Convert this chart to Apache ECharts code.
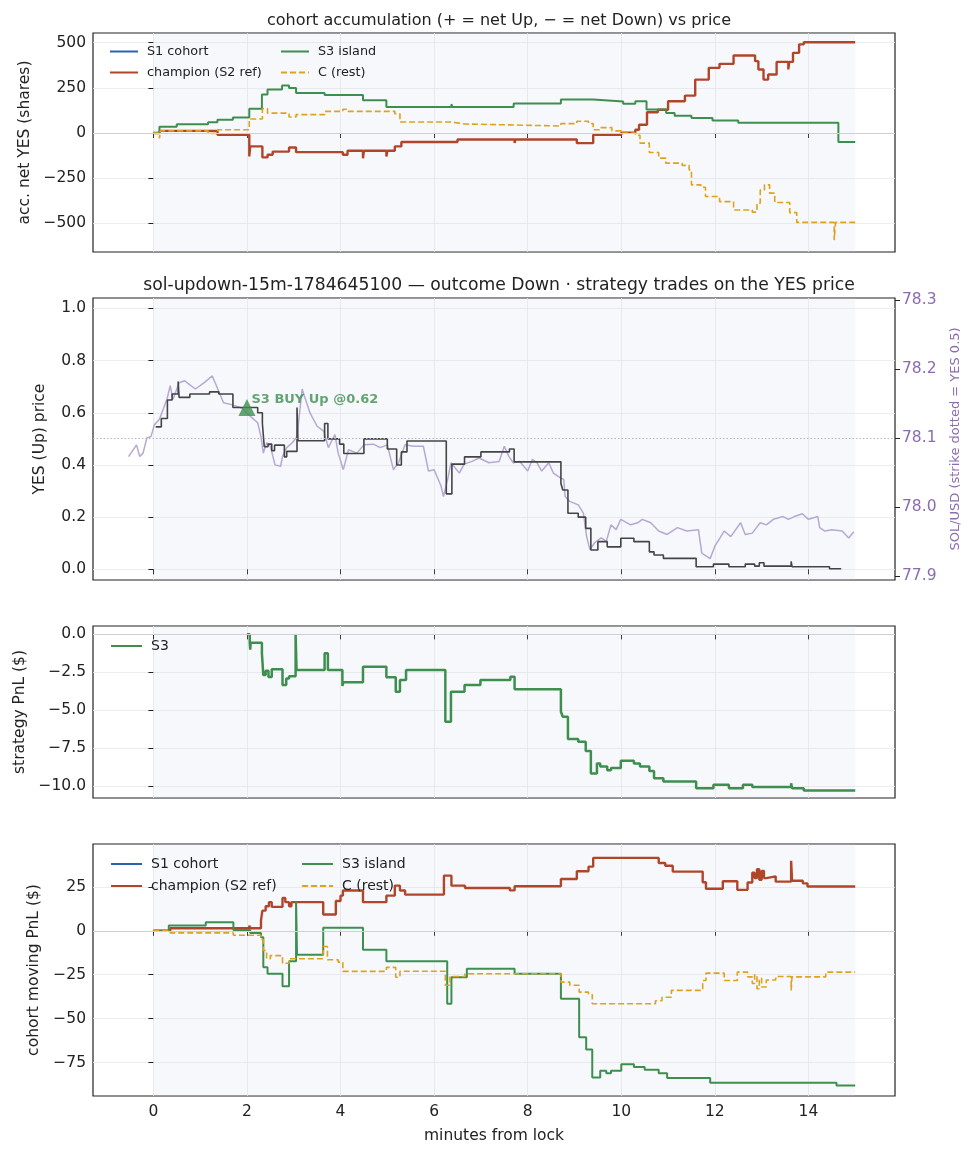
<!DOCTYPE html>
<html>
<head>
<meta charset="utf-8">
<script src="https://cdn.jsdelivr.net/npm/echarts@6/dist/echarts.min.js"></script>
<style>
  body { margin: 0; background: #fff; }
  #chart { width: 973px; height: 1156px; }
</style>
</head>
<body>
<div id="chart"></div>
<script>
// x ticks (minutes from lock)
var xTicks = [0, 2, 4, 6, 8, 10, 12, 14];

// panel 1: accumulated net YES shares
var accChampT = [0, 0.13, 1.37, 2.05, 2.07, 2.33, 2.44, 2.55, 2.9, 3.05, 4.05, 4.15, 4.48, 4.5, 4.98, 5.0, 5.16, 5.3, 6.5, 7.72, 7.74, 9.05, 9.4, 10.0, 10.3, 10.38, 10.55, 10.78, 11.0, 11.36, 11.58, 11.87, 12.1, 12.4, 12.86, 12.93, 13.04, 13.14, 13.32, 13.57, 13.59, 13.67, 13.8, 13.9, 15.0];
var accChampV = [0, 12, -10, -130, -74, -135, -120, -103, -80, -106, -120, -98, -140, -98, -130, -98, -74, -50, -36, -55, -36, -56, -10, 2, 18, 46, 115, 129, 176, 207, 296, 361, 383, 429, 398, 352, 296, 324, 394, 352, 394, 444, 491, 503, 503];
var accS3T = [0, 0.13, 0.5, 1.17, 1.37, 1.7, 2.05, 2.32, 2.44, 2.75, 2.9, 3.05, 3.66, 4.48, 4.98, 6.37, 6.39, 7.7, 8.71, 9.4, 10.04, 10.3, 10.54, 10.96, 11.14, 11.5, 11.95, 12.5, 14.64, 15.0];
var accS3V = [0, 35, 48, 60, 74, 86, 135, 213, 241, 263, 249, 222, 210, 181, 144, 160, 144, 163, 185, 174, 162, 176, 130, 111, 96, 83, 70, 57, -50, -50];
var accRestT = [0, 0.13, 0.15, 1.17, 1.37, 2.05, 2.33, 2.44, 2.9, 3.05, 3.66, 4.05, 4.15, 5.16, 5.27, 6.37, 6.66, 8.71, 9.05, 9.3, 9.4, 9.55, 9.8, 10.0, 10.3, 10.4, 10.6, 10.8, 10.95, 11.3, 11.45, 11.5, 11.7, 11.8, 12.1, 12.4, 12.8, 12.9, 12.97, 13.06, 13.17, 13.28, 13.6, 13.75, 14.55, 14.58, 15.0];
var accRestV = [0, -30, 12, -2, 18, 78, 135, 110, 89, 102, 120, 132, 120, 107, 61, 50, 39, 52, 65, 53, 18, 30, 12, 0, -12, -56, -108, -139, -167, -179, -204, -287, -300, -352, -380, -426, -438, -389, -315, -287, -333, -385, -441, -495, -593, -495, -495];
var accTicks = [-500, -250, 0, 250, 500];

// panel 2: YES price and SOL/USD
var yesT = [0.05, 0.17, 0.3, 0.4, 0.53, 0.55, 0.78, 1.2, 1.4, 1.7, 2.23, 2.33, 2.37, 2.45, 2.53, 2.59, 2.8, 2.85, 3.07, 3.09, 3.66, 3.73, 3.98, 4.07, 4.5, 5.0, 5.2, 5.3, 5.42, 6.26, 6.38, 6.65, 7.0, 7.61, 7.71, 8.71, 8.75, 8.86, 9.08, 9.24, 9.35, 9.5, 9.7, 9.99, 10.27, 10.6, 10.7, 10.9, 11.6, 11.97, 12.3, 12.65, 12.85, 12.95, 13.05, 13.63, 13.65, 14.45, 14.7];
var yesP = [0.546, 0.578, 0.649, 0.672, 0.72, 0.659, 0.672, 0.680, 0.672, 0.62, 0.600, 0.559, 0.47, 0.48, 0.455, 0.476, 0.431, 0.452, 0.62, 0.493, 0.559, 0.5, 0.48, 0.444, 0.50, 0.461, 0.4, 0.45, 0.492, 0.289, 0.403, 0.431, 0.45, 0.461, 0.412, 0.329, 0.304, 0.215, 0.2, 0.157, 0.074, 0.106, 0.086, 0.119, 0.106, 0.067, 0.055, 0.042, 0.010, 0.02, 0.010, 0.02, 0.012, 0.025, 0.012, 0.03, 0.010, 0.002, 0.002];
var solT = [-0.53, -0.36, -0.29, -0.22, -0.14, -0.05, 0.02, 0.13, 0.29, 0.36, 0.42, 0.55, 0.67, 0.78, 0.9, 1.1, 1.26, 1.32, 1.5, 1.69, 1.9, 2.08, 2.23, 2.3, 2.35, 2.42, 2.5, 2.6, 2.72, 2.76, 2.85, 2.97, 3.07, 3.18, 3.25, 3.35, 3.5, 3.64, 3.74, 3.88, 3.95, 4.06, 4.17, 4.35, 4.5, 4.7, 4.85, 5.0, 5.13, 5.24, 5.38, 5.56, 5.77, 5.88, 6.0, 6.15, 6.2, 6.29, 6.36, 6.54, 6.64, 6.81, 6.96, 7.17, 7.39, 7.5, 7.6, 7.69, 7.83, 8.0, 8.1, 8.2, 8.3, 8.45, 8.55, 8.7, 8.77, 8.8, 8.9, 9.08, 9.19, 9.26, 9.33, 9.43, 9.57, 9.68, 9.78, 9.89, 9.99, 10.2, 10.35, 10.45, 10.63, 10.8, 10.98, 11.2, 11.4, 11.65, 11.72, 11.9, 12.0, 12.2, 12.34, 12.55, 12.65, 12.8, 12.97, 13.1, 13.25, 13.46, 13.57, 13.7, 13.87, 14.0, 14.2, 14.24, 14.35, 14.5, 14.72, 14.86, 14.97];
var solP = [78.073, 78.090, 78.073, 78.078, 78.100, 78.102, 78.119, 78.127, 78.156, 78.176, 78.156, 78.180, 78.183, 78.177, 78.171, 78.181, 78.190, 78.180, 78.151, 78.148, 78.143, 78.131, 78.122, 78.102, 78.078, 78.093, 78.088, 78.061, 78.059, 78.073, 78.086, 78.093, 78.102, 78.171, 78.156, 78.136, 78.117, 78.110, 78.086, 78.105, 78.078, 78.054, 78.083, 78.078, 78.090, 78.091, 78.086, 78.090, 78.054, 78.064, 78.090, 78.088, 78.088, 78.052, 78.054, 78.030, 78.015, 78.040, 78.064, 78.049, 78.062, 78.066, 78.071, 78.064, 78.066, 78.088, 78.073, 78.064, 78.066, 78.052, 78.069, 78.064, 78.052, 78.064, 78.049, 78.042, 78.040, 78.015, 78.008, 78.003, 77.991, 77.957, 77.938, 77.948, 77.955, 77.950, 77.974, 77.967, 77.982, 77.974, 77.977, 77.982, 77.977, 77.965, 77.960, 77.970, 77.965, 77.967, 77.933, 77.925, 77.943, 77.965, 77.957, 77.977, 77.960, 77.962, 77.977, 77.974, 77.982, 77.986, 77.982, 77.986, 77.990, 77.982, 77.986, 77.970, 77.965, 77.967, 77.965, 77.955, 77.964];
var strike = 78.1;
var buyT = [2.0];
var buyP = [0.62];
var buyLabel = 'S3 BUY Up @0.62';
var yesTicks = [0, 0.2, 0.4, 0.6, 0.8, 1.0];
var solTicks = [77.9, 78.0, 78.1, 78.2, 78.3];

// panel 3: strategy PnL
var pnlT = [2.0, 2.06, 2.07, 2.08, 2.32, 2.35, 2.4, 2.46, 2.53, 2.76, 2.84, 2.9, 3.04, 3.06, 3.66, 3.73, 4.04, 4.06, 4.48, 4.98, 5.18, 5.27, 5.4, 6.24, 6.36, 6.65, 6.99, 7.63, 7.72, 8.71, 8.75, 8.86, 9.08, 9.24, 9.35, 9.48, 9.55, 9.7, 9.78, 9.99, 10.27, 10.4, 10.6, 10.7, 10.9, 11.6, 11.97, 12.3, 12.6, 12.8, 13.63, 13.65, 13.9, 15.0];
var pnlS3 = [0, -0.55, -1.0, -0.55, -1.25, -2.68, -2.4, -2.8, -2.3, -3.33, -2.9, -2.75, 0, -2.35, -1.25, -2.35, -3.4, -3.16, -2.13, -2.83, -3.78, -3.0, -2.35, -5.75, -3.78, -3.34, -3.0, -2.79, -3.62, -5.09, -5.42, -6.89, -7.07, -7.68, -9.15, -8.5, -8.7, -8.95, -8.8, -8.32, -8.5, -8.7, -9.0, -9.47, -9.68, -10.13, -9.9, -10.13, -9.9, -10.05, -9.8, -10.13, -10.28, -10.28];
var pnlTicks = [-10, -7.5, -5, -2.5, 0];

// panel 4: cohort moving PnL
var movChampT = [0, 0.36, 2.05, 2.07, 2.3, 2.33, 2.4, 2.47, 2.53, 2.76, 2.82, 2.9, 2.95, 3.63, 3.9, 4.0, 4.05, 4.48, 4.98, 5.16, 5.27, 5.38, 6.21, 6.37, 6.66, 7.62, 7.72, 8.71, 9.05, 9.3, 9.4, 10.8, 10.94, 11.1, 11.74, 11.81, 12.17, 12.48, 12.7, 12.8, 12.85, 12.9, 12.95, 13.0, 13.05, 13.1, 13.3, 13.63, 13.65, 13.88, 13.98, 15.0];
var movChampV = [0, 1.5, 3, 1.5, 5.9, 11.5, 14, 16.3, 13.6, 18.7, 16.3, 14, 16.3, 9.3, 17, 20, 22.9, 16.3, 20, 25.7, 22.9, 20.6, 31.4, 25.7, 24.4, 23.0, 25.4, 29.5, 33.9, 36.5, 41.5, 38.6, 37, 33.7, 27.6, 23.9, 28.2, 23.3, 27.5, 33, 30, 35, 29, 34, 30, 31, 28, 39.8, 28.5, 27, 25.2, 25.2];
var movS3T = [0, 0.33, 1.12, 1.71, 2.07, 2.3, 2.35, 2.44, 2.76, 2.9, 3.05, 3.07, 3.63, 4.48, 4.98, 6.28, 6.37, 6.7, 7.72, 8.71, 9.1, 9.25, 9.38, 9.55, 9.68, 9.78, 10.0, 10.27, 10.5, 10.8, 10.98, 11.9, 14.6, 15.0];
var movS3V = [0, 3.0, 4.9, 0.5, -1.3, -3.6, -20.7, -24.4, -31.6, -17.3, 17, -13.6, 1.7, -10.8, -17.3, -41.5, -26.4, -21.6, -24.4, -38.6, -60.5, -67.6, -83.5, -79.7, -81, -79.7, -76, -77.5, -79, -81, -83.7, -86.5, -88, -88];
var movRestT = [0, 0.36, 1.71, 2.3, 2.35, 2.42, 2.5, 2.76, 2.9, 3.63, 3.72, 3.95, 4.05, 4.98, 5.18, 5.27, 6.24, 6.34, 6.66, 8.71, 8.9, 9.1, 9.3, 9.38, 10.73, 10.87, 11.07, 11.74, 11.81, 12.2, 12.48, 12.7, 12.8, 12.85, 12.9, 12.95, 13.0, 13.1, 13.3, 13.63, 13.65, 14.37, 15.0];
var movRestV = [0, -1.2, -2.5, -5, -11.2, -15.9, -14.1, -18.5, -15.9, -8.9, -16.5, -17.8, -23.1, -20.8, -26.4, -23, -31, -26, -24.4, -29.2, -31, -34.9, -36.2, -41.5, -39.8, -37.8, -33.9, -28.3, -24.1, -28.3, -23.5, -26.2, -30, -25, -33, -27, -32, -28, -26, -33.9, -26.2, -23.5, -23.5];
var movTicks = [-75, -50, -25, 0, 25];

var FONT = 'DejaVu Sans';
var C_S1 = '#2a62ad', C_CH = '#b1452a', C_S3 = '#3e8e4f', C_C = '#dfa21c';
var C_YES = '#444444', C_SOL = '#b7a8d3', C_PURPLE = '#8c6bb1';
var FS = 15.5;

var lefts = 93, rights = 973 - 895;
var grids = [
    { top: 33, height: 219 },
    { top: 298, height: 282 },
    { top: 626, height: 172 },
    { top: 844, height: 252 }
].map(function (g) {
    return { left: lefts, right: rights, top: g.top, height: g.height, show: true,
        borderColor: '#222', borderWidth: 1.2, backgroundColor: 'transparent' };
});

function minusFmt(dec) {
    return function (v) {
        var s = Math.abs(v).toFixed(dec);
        return (v < 0 ? '\u2212' : '') + s;
    };
}

function xAxis(i) {
    return {
        type: 'value', gridIndex: i, min: -1.29, max: 15.85,
        axisLine: { show: false },
        axisTick: { show: true, length: 5, customValues: xTicks, lineStyle: { color: '#222' } },
        axisLabel: { show: i === 3, customValues: xTicks, fontSize: FS, color: '#222', fontFamily: FONT, margin: 8 },
        splitLine: { show: true, lineStyle: { color: '#e8e8e8', width: 0.8 } },
        name: i === 3 ? 'minutes from lock' : '', nameLocation: 'middle', nameGap: 32,
        nameTextStyle: { fontSize: FS, color: '#222', fontFamily: FONT }
    };
}

function yAxis(i, min, max, ticks, fmt, name, gap) {
    return {
        type: 'value', gridIndex: i, min: min, max: max,
        axisLine: { show: false },
        axisTick: { show: true, length: 5, customValues: ticks, lineStyle: { color: '#222' } },
        axisLabel: { customValues: ticks, formatter: fmt, fontSize: FS, color: '#222', fontFamily: FONT, margin: 7 },
        splitLine: { show: true, lineStyle: { color: '#e8e8e8', width: 0.8 } },
        name: name, nameLocation: 'middle', nameGap: gap,
        nameTextStyle: { fontSize: FS, color: '#222', fontFamily: FONT }
    };
}

function pairs(t, v) {
    return t.map(function (x, i) { return [x, v[i]]; });
}

function stepLine(name, t, v, xi, yi, color, width, dashed) {
    return {
        type: 'line', name: name, xAxisIndex: xi, yAxisIndex: yi,
        data: pairs(t, v), step: 'end', symbol: 'none', showSymbol: false,
        lineStyle: { color: color, width: width, type: dashed ? [6, 3] : 'solid' },
        itemStyle: { color: color }, animation: false, z: 3
    };
}

var shade = {
    silent: true,
    itemStyle: { color: 'rgba(200,210,238,0.16)' },
    data: [[{ xAxis: 0 }, { xAxis: 15 }]]
};
function zeroLine(y, color, type) {
    return { silent: true, symbol: 'none', label: { show: false },
        lineStyle: { color: color, width: 1, type: type },
        data: [{ yAxis: y }] };
}

var series = [];
// panel 1
var p1first = stepLine('S1 cohort', [], [], 0, 0, C_S1, 2.2, false);
p1first.markArea = shade;
p1first.markLine = zeroLine(0, '#d0d0d0', 'solid');
series.push(p1first);
series.push(stepLine('champion (S2 ref)', accChampT, accChampV, 0, 0, C_CH, 2.4, false));
series.push(stepLine('S3 island', accS3T, accS3V, 0, 0, C_S3, 2, false));
series.push(stepLine('C (rest)', accRestT, accRestV, 0, 0, C_C, 1.6, true));

// panel 2
series.push({
    type: 'line', name: 'SOL/USD', xAxisIndex: 1, yAxisIndex: 2,
    data: pairs(solT, solP), symbol: 'none', showSymbol: false,
    lineStyle: { color: C_SOL, width: 1.5 }, itemStyle: { color: C_SOL }, animation: false, z: 2,
    markArea: shade,
    markLine: zeroLine(strike, '#bcb0d2', [1.5, 2])
});
series.push(stepLine('YES price', yesT, yesP, 1, 1, C_YES, 1.6, false));
series.push({
    type: 'scatter', name: 'S3 BUY', xAxisIndex: 1, yAxisIndex: 1,
    data: pairs(buyT, buyP), symbol: 'triangle', symbolSize: 17,
    itemStyle: { color: C_S3 }, z: 5, animation: false,
    label: { show: true, position: 'right', distance: 0, offset: [-4, -8], formatter: buyLabel,
        fontSize: 13, fontWeight: 'bold', color: C_S3, fontFamily: FONT }
});

// panel 3
var p3 = stepLine('S3', pnlT, pnlS3, 2, 3, C_S3, 2.5, false);
p3.markArea = shade;
p3.markLine = zeroLine(0, '#d0d0d0', 'solid');
series.push(p3);

// panel 4
var p4first = stepLine('S1 cohort', [], [], 3, 4, C_S1, 2.2, false);
p4first.markArea = shade;
p4first.markLine = zeroLine(0, '#d0d0d0', 'solid');
series.push(p4first);
series.push(stepLine('champion (S2 ref)', movChampT, movChampV, 3, 4, C_CH, 2.4, false));
series.push(stepLine('S3 island', movS3T, movS3V, 3, 4, C_S3, 2, false));
series.push(stepLine('C (rest)', movRestT, movRestV, 3, 4, C_C, 1.6, true));

function legend(items, left, top, fs, w) {
    return {
        data: items, left: left, top: top, orient: 'vertical', selectedMode: false,
        itemWidth: w, itemHeight: 12, itemGap: 8,
        itemStyle: { opacity: 0 },
        textStyle: { fontSize: fs, color: '#222', fontFamily: FONT, padding: [0, 0, 0, 4] }
    };
}

var rightAxis = {
    type: 'value', gridIndex: 1, position: 'right', min: 77.894, max: 78.303,
    axisLine: { show: false },
    axisTick: { show: true, length: 5, customValues: solTicks, lineStyle: { color: '#222' } },
    axisLabel: { customValues: solTicks, formatter: function (v) { return v.toFixed(1); },
        fontSize: FS, color: C_PURPLE, fontFamily: FONT, margin: 7 },
    splitLine: { show: false },
    name: 'SOL/USD (strike dotted = YES 0.5)', nameLocation: 'middle', nameGap: 54, nameRotate: 90,
    nameTextStyle: { fontSize: 13, color: C_PURPLE, fontFamily: FONT }
};

var chart = echarts.init(document.getElementById('chart'), null, { renderer: 'canvas' });
chart.setOption({
    backgroundColor: '#ffffff',
    animation: false,
    textStyle: { fontFamily: FONT },
    title: [
        { text: 'cohort accumulation (+ = net Up, \u2212 = net Down) vs price', left: 494, top: 8, textAlign: 'center',
          textStyle: { fontSize: 16, fontWeight: 'normal', color: '#222', fontFamily: FONT } },
        { text: 'sol-updown-15m-1784645100 \u2014 outcome Down \u00b7 strategy trades on the YES price', left: 494, top: 272, textAlign: 'center',
          textStyle: { fontSize: 17.2, fontWeight: 'normal', color: '#222', fontFamily: FONT } }
    ],
    legend: [
        legend(['S1 cohort', 'champion (S2 ref)'], 104, 40, 12.8, 28),
        legend(['S3 island', 'C (rest)'], 275, 40, 12.8, 28),
        legend(['S3'], 105, 634, 14, 31),
        legend(['S1 cohort', 'champion (S2 ref)'], 105, 852, 14, 31),
        legend(['S3 island', 'C (rest)'], 296, 852, 14, 31)
    ],
    grid: grids,
    xAxis: [xAxis(0), xAxis(1), xAxis(2), xAxis(3)],
    yAxis: [
        yAxis(0, -659, 554, accTicks, minusFmt(0), 'acc. net YES (shares)', 57),
        yAxis(1, -0.041, 1.04, yesTicks, minusFmt(1), 'YES (Up) price', 45),
        rightAxis,
        yAxis(2, -10.77, 0.55, pnlTicks, minusFmt(1), 'strategy PnL ($)', 63),
        yAxis(3, -94, 49.4, movTicks, minusFmt(0), 'cohort moving PnL ($)', 51)
    ],
    series: series
});
</script>
</body>
</html>
